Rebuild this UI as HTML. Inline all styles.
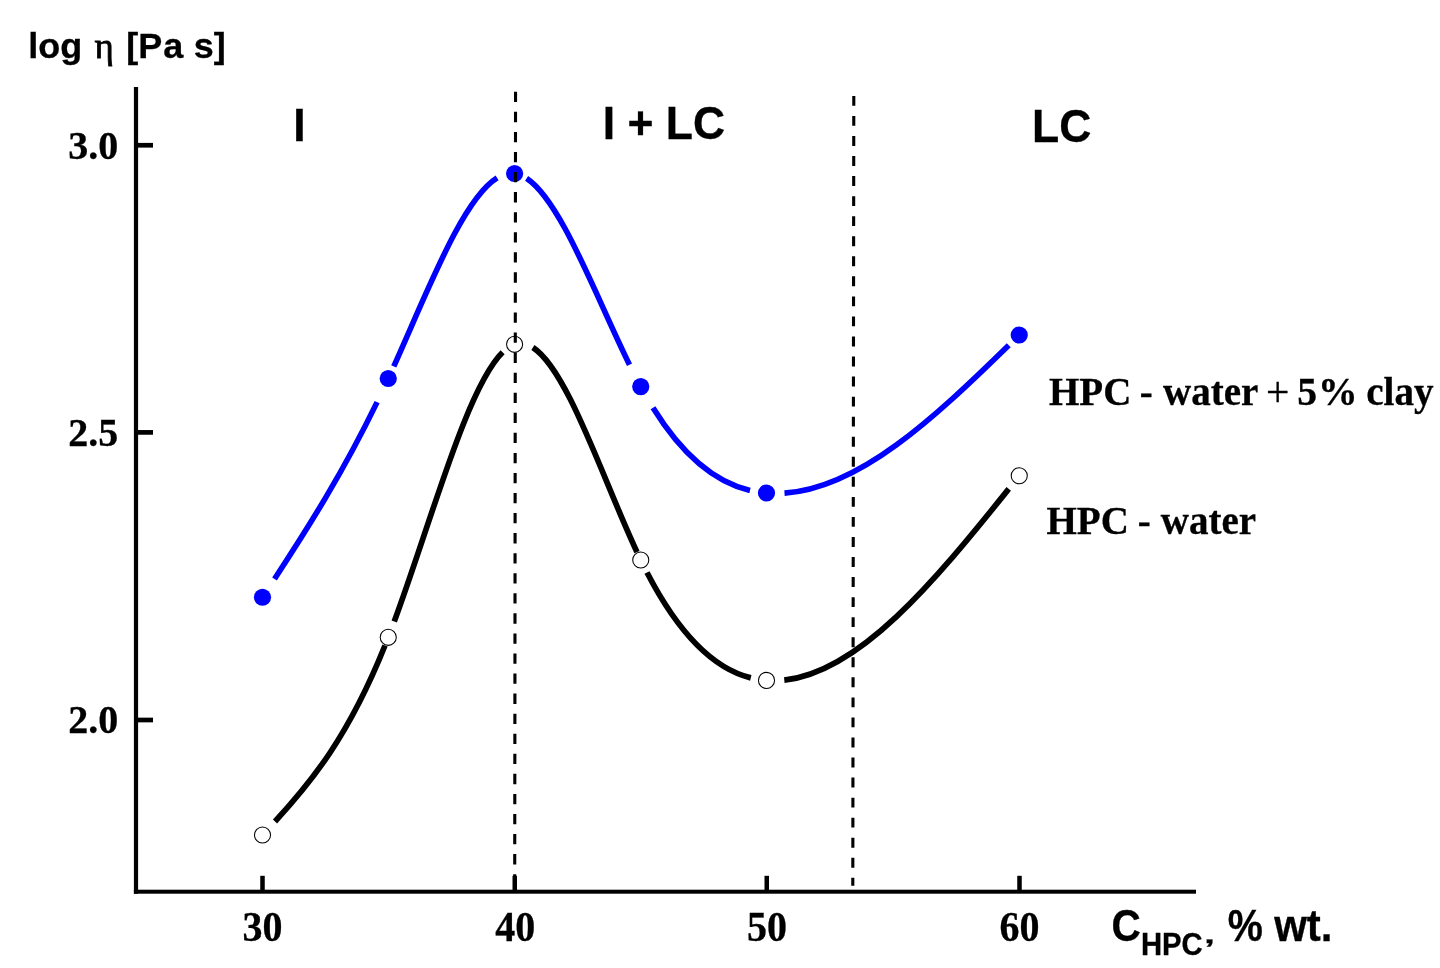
<!DOCTYPE html>
<html lang="en">
<head>
<meta charset="utf-8">
<title>log viscosity vs HPC concentration</title>
<style>
html,body{margin:0;padding:0;background:#fff;}
body{width:1440px;height:968px;overflow:hidden;}
svg{display:block;}
.sb{font-family:"Liberation Sans",Arial,Helvetica,sans-serif;font-weight:700;fill:#000;stroke:#000;stroke-width:0.3px;}
.tb{font-family:"Liberation Serif","Times New Roman",Times,serif;font-weight:700;fill:#000;stroke:#000;stroke-width:0.3px;}
.tr{font-family:"Liberation Serif","Times New Roman",Times,serif;font-weight:400;fill:#000;stroke:#000;stroke-width:0.3px;}
</style>
</head>
<body>
<svg width="1440" height="968" viewBox="0 0 1440 968">
<rect width="1440" height="968" fill="#fff"/>
<!-- axes -->
<rect x="133.9" y="87" width="4.2" height="806.7" fill="#000"/>
<rect x="133.9" y="889.7" width="1062.1" height="4" fill="#000"/>
<rect x="260.25" y="875.8" width="4.5" height="15" fill="#000"/><rect x="512.50" y="875.8" width="4.5" height="15" fill="#000"/><rect x="764.50" y="875.8" width="4.5" height="15" fill="#000"/><rect x="1017.25" y="875.8" width="4.5" height="15" fill="#000"/>
<rect x="137" y="142.90" width="16" height="4.7" fill="#000"/><rect x="137" y="430.05" width="16" height="4.7" fill="#000"/><rect x="137" y="717.65" width="16" height="4.7" fill="#000"/>
<!-- curves -->
<path d="M275.00 821.49C311.67 781.51 348.33 736.78 385.00 645.51 M394.25 621.51C430.37 524.15 466.48 388.14 502.60 352.32 M532.90 347.51C567.60 369.88 602.30 477.93 637.00 552.12 M647.00 572.49C681.60 639.36 716.20 669.24 750.80 677.88 M784.30 680.10C859.12 672.20 933.93 582.37 1008.75 488.89" fill="none" stroke="#000" stroke-width="5.7"/>
<path d="M274.50 578.95C308.70 526.68 342.90 472.66 377.10 402.11 M393.75 366.40C428.20 289.81 462.65 199.23 497.10 177.94 M526.60 178.32C560.90 200.86 595.20 294.91 629.50 364.70 M653.00 407.77C685.33 459.91 717.67 482.92 750.00 490.44 M784.50 493.15C859.25 488.38 934.00 418.29 1008.75 345.27" fill="none" stroke="#0000ff" stroke-width="5.6"/>
<circle cx="262.50" cy="835.00" r="8.05" fill="#fff" stroke="#000" stroke-width="1.05"/><circle cx="388.25" cy="637.30" r="8.05" fill="#fff" stroke="#000" stroke-width="1.05"/><circle cx="514.60" cy="344.30" r="8.05" fill="#fff" stroke="#000" stroke-width="1.05"/><circle cx="640.75" cy="560.00" r="8.05" fill="#fff" stroke="#000" stroke-width="1.05"/><circle cx="766.50" cy="680.40" r="8.05" fill="#fff" stroke="#000" stroke-width="1.05"/><circle cx="1019.25" cy="475.75" r="8.05" fill="#fff" stroke="#000" stroke-width="1.05"/>
<circle cx="262.50" cy="597.25" r="8.6" fill="#0000ff"/><circle cx="388.25" cy="378.50" r="8.6" fill="#0000ff"/><circle cx="514.60" cy="173.50" r="8.6" fill="#0000ff"/><circle cx="640.75" cy="386.60" r="8.6" fill="#0000ff"/><circle cx="766.50" cy="493.00" r="8.6" fill="#0000ff"/><circle cx="1019.25" cy="335.00" r="8.6" fill="#0000ff"/>
<!-- phase boundaries -->
<line x1="515.55" y1="91.8" x2="514.7" y2="890" stroke="#000" stroke-width="3.1" stroke-dasharray="10.3 9.76"/>
<line x1="853.8" y1="95.9" x2="852.8" y2="885.7" stroke="#000" stroke-width="3.1" stroke-dasharray="9.9 10.15"/>
<!-- text -->
<text class="sb" transform="translate(0,57.5) scale(1,0.977)" font-size="36"><tspan x="28.2" y="0">log</tspan> <tspan class="tr" x="94.6" font-size="37" textLength="19.3" lengthAdjust="spacingAndGlyphs" style="stroke-width:0.8px">η</tspan> <tspan x="126.3" dx="0 0 0.9">[Pa</tspan> <tspan x="193.8">s]</tspan></text>
<text class="tb" transform="translate(118.2,158.6) scale(1,1.01)" font-size="40" text-anchor="end">3.0</text>
<text class="tb" transform="translate(118.2,445.5) scale(1,1.01)" font-size="40" text-anchor="end">2.5</text>
<text class="tb" transform="translate(118.2,732.7) scale(1,1.01)" font-size="40" text-anchor="end">2.0</text>
<text class="tb" transform="translate(262.6,941.2) scale(1,1.035)" font-size="40" text-anchor="middle">30</text>
<text class="tb" transform="translate(515.2,941.2) scale(1,1.035)" font-size="40" text-anchor="middle">40</text>
<text class="tb" transform="translate(766.9,941.2) scale(1,1.035)" font-size="40" text-anchor="middle">50</text>
<text class="tb" transform="translate(1019.5,941.2) scale(1,1.035)" font-size="40" text-anchor="middle">60</text>
<text class="sb" transform="translate(293.3,140.6) scale(1.0,1.04)" font-size="44.5">I</text>
<text class="sb" transform="translate(602.8,138.8) scale(1.0,1.04)" font-size="44.5">I + LC</text>
<text class="sb" transform="translate(1032,142.0) scale(1.0,1.04)" font-size="44.5">LC</text>
<text class="tb" y="404.6" font-size="39"><tspan x="1049">HPC</tspan> <tspan x="1139.8">-</tspan> <tspan x="1163">water</tspan> <tspan class="tr" x="1266" dy="1.3" font-size="41.5">+</tspan> <tspan x="1297.2" dy="-1.3" dx="0 1.0" textLength="60.5" lengthAdjust="spacingAndGlyphs">5%</tspan> <tspan x="1366.3">clay</tspan></text>
<text class="tb" y="533.8" font-size="39"><tspan x="1046.5">HPC</tspan> <tspan x="1137.8">-</tspan> <tspan x="1160.8">water</tspan></text>
<text class="sb" transform="translate(1111.4,940.9) scale(1.0,1.08)" font-size="40.5">C</text>
<text class="sb" transform="translate(1141,954.8) scale(1.0,1.04)" font-size="29.25">HPC</text>
<text class="sb" transform="translate(1204.2,943.4) scale(1.4,0.9)" font-size="27">,</text>
<text class="sb" transform="translate(1227.7,940.9) scale(1.0,1.11)" font-size="39.5">%</text>
<text class="sb" transform="translate(1274.2,940.9) scale(1.0,1.04)" font-size="42">wt.</text>
</svg>
</body>
</html>
